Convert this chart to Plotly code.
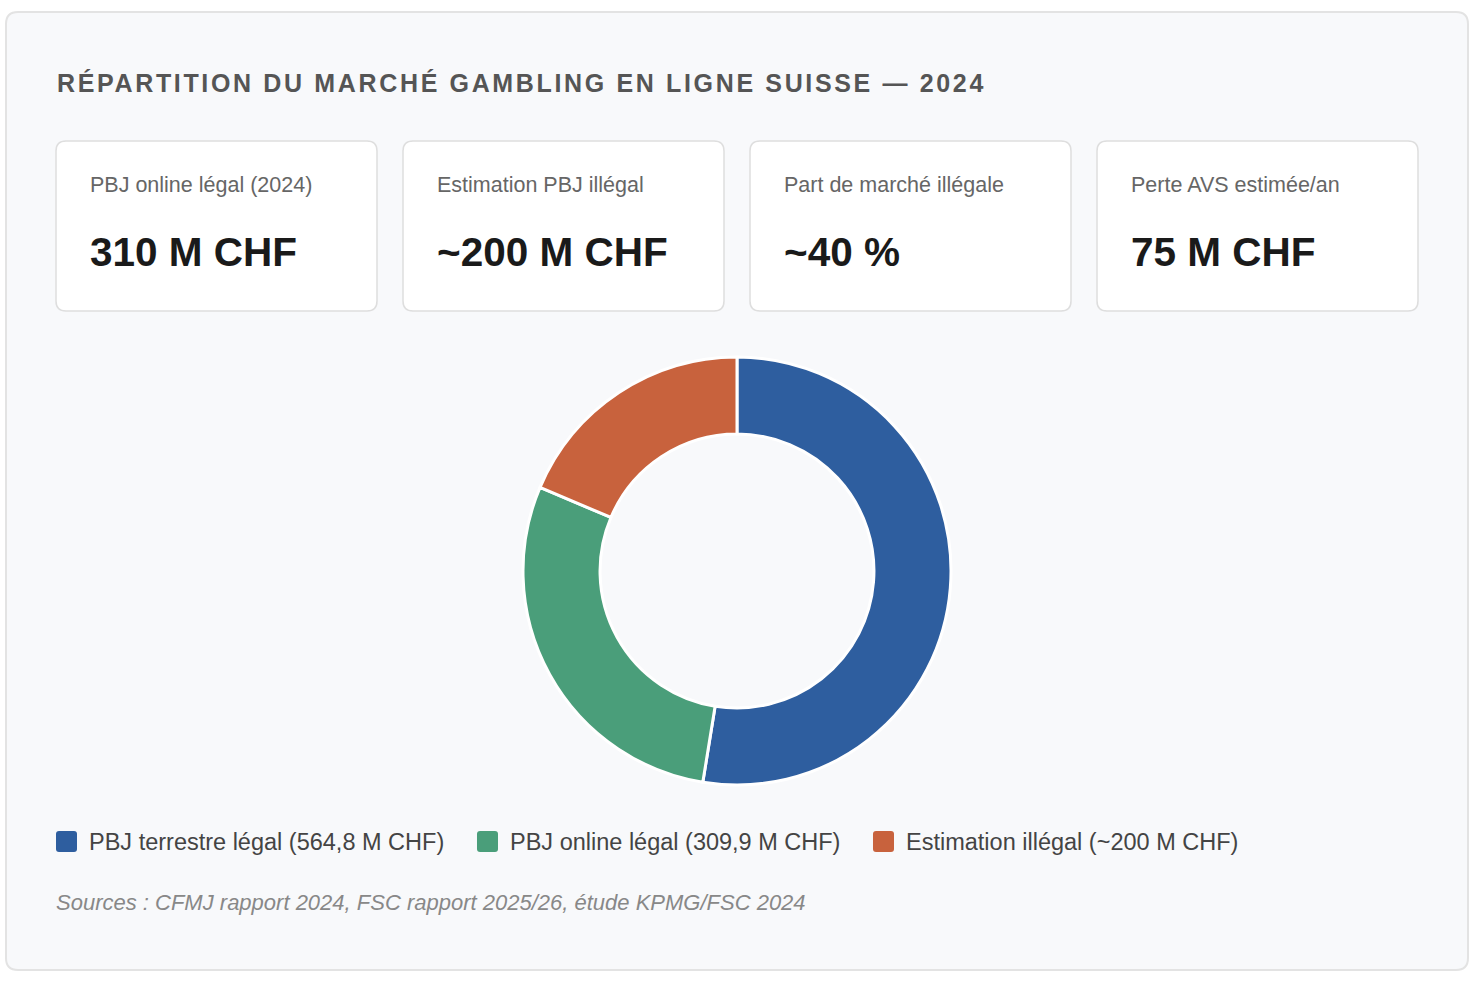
import plotly.graph_objects as go

W, H = 1478, 984

# --- data ---
title = "RÉPARTITION DU MARCHÉ GAMBLING EN LIGNE SUISSE — 2024"
card_labels = ["PBJ online légal (2024)", "Estimation PBJ illégal",
               "Part de marché illégale", "Perte AVS estimée/an"]
card_values = ["310 M CHF", "~200 M CHF", "~40 %", "75 M CHF"]
segments = ["PBJ terrestre légal", "PBJ online légal", "Estimation illégal"]
segment_values = [564.8, 309.9, 200]
segment_legend = ["PBJ terrestre légal (564,8 M CHF)",
                  "PBJ online légal (309,9 M CHF)",
                  "Estimation illégal (~200 M CHF)"]
colors = ["#2e5e9f", "#4a9e7a", "#c8623d"]
source_note = "Sources : CFMJ rapport 2024, FSC rapport 2025/26, étude KPMG/FSC 2024"

FONT = "Liberation Sans, Arial, Helvetica, sans-serif"


def px(x):
    return x / W


def py(y):
    return 1 - y / H


def rounded_rect(x0, y0, x1, y1, r):
    # pixel coords (top-left origin) -> paper path with rounded corners
    X = lambda v: f"{px(v):.5f}"
    Y = lambda v: f"{py(v):.5f}"
    return (f"M {X(x0 + r)},{Y(y0)} L {X(x1 - r)},{Y(y0)} "
            f"Q {X(x1)},{Y(y0)} {X(x1)},{Y(y0 + r)} "
            f"L {X(x1)},{Y(y1 - r)} Q {X(x1)},{Y(y1)} {X(x1 - r)},{Y(y1)} "
            f"L {X(x0 + r)},{Y(y1)} Q {X(x0)},{Y(y1)} {X(x0)},{Y(y1 - r)} "
            f"L {X(x0)},{Y(y0 + r)} Q {X(x0)},{Y(y0)} {X(x0 + r)},{Y(y0)} Z")


fig = go.Figure()

# donut
cx, cy, R = 737, 571, 214
fig.add_trace(go.Pie(
    labels=segments,
    values=segment_values,
    hole=0.64,
    sort=False,
    direction="clockwise",
    rotation=0,
    textinfo="none",
    hoverinfo="label+value",
    marker=dict(colors=colors, line=dict(color="white", width=3)),
    domain=dict(x=[px(cx - R), px(cx + R)], y=[py(cy + R), py(cy - R)]),
    showlegend=False,
))

shapes = []
annotations = []

# outer panel
shapes.append(dict(type="path", xref="paper", yref="paper", layer="below",
                   path=rounded_rect(6, 12, 1468, 970, 12),
                   fillcolor="#f8f9fb", line=dict(color="#e3e3e3", width=2)))

# title
annotations.append(dict(
    x=px(55), y=py(83), xref="paper", yref="paper", xanchor="left", yanchor="middle",
    showarrow=False,
    text=f"<span style='letter-spacing:2.65px'><b>{title}</b></span>",
    font=dict(family=FONT, size=25, color="#555555")))

# KPI cards
card_x = [56, 403, 750, 1097]
card_w = 321
for x0, lab, val in zip(card_x, card_labels, card_values):
    shapes.append(dict(type="path", xref="paper", yref="paper", layer="below",
                       path=rounded_rect(x0, 141, x0 + card_w, 311, 10),
                       fillcolor="white", line=dict(color="#dedede", width=1.5)))
    annotations.append(dict(
        x=px(x0 + 32), y=py(185), xref="paper", yref="paper",
        xanchor="left", yanchor="middle", showarrow=False, text=lab,
        font=dict(family=FONT, size=21.5, color="#666666")))
    annotations.append(dict(
        x=px(x0 + 32), y=py(252), xref="paper", yref="paper",
        xanchor="left", yanchor="middle", showarrow=False, text=f"<b>{val}</b>",
        font=dict(family=FONT, size=40.5, color="#1a1a1a")))

# legend
legend_x = [56, 477, 873]
for x0, lab, col in zip(legend_x, segment_legend, colors):
    shapes.append(dict(type="path", xref="paper", yref="paper",
                       path=rounded_rect(x0, 831, x0 + 21, 852, 3),
                       fillcolor=col, line=dict(width=0)))
    annotations.append(dict(
        x=px(x0 + 31), y=py(842), xref="paper", yref="paper",
        xanchor="left", yanchor="middle", showarrow=False, text=lab,
        font=dict(family=FONT, size=23.5, color="#444444")))

# sources
annotations.append(dict(
    x=px(54), y=py(902), xref="paper", yref="paper",
    xanchor="left", yanchor="middle", showarrow=False,
    text=f"<i>{source_note}</i>",
    font=dict(family=FONT, size=22, color="#888888")))

fig.update_layout(
    width=W, height=H,
    margin=dict(l=0, r=0, t=0, b=0),
    paper_bgcolor="white",
    plot_bgcolor="white",
    shapes=shapes,
    annotations=annotations,
)

fig.write_html("out.html", config={"displayModeBar": False},
               post_script="document.body.style.margin='0';")
